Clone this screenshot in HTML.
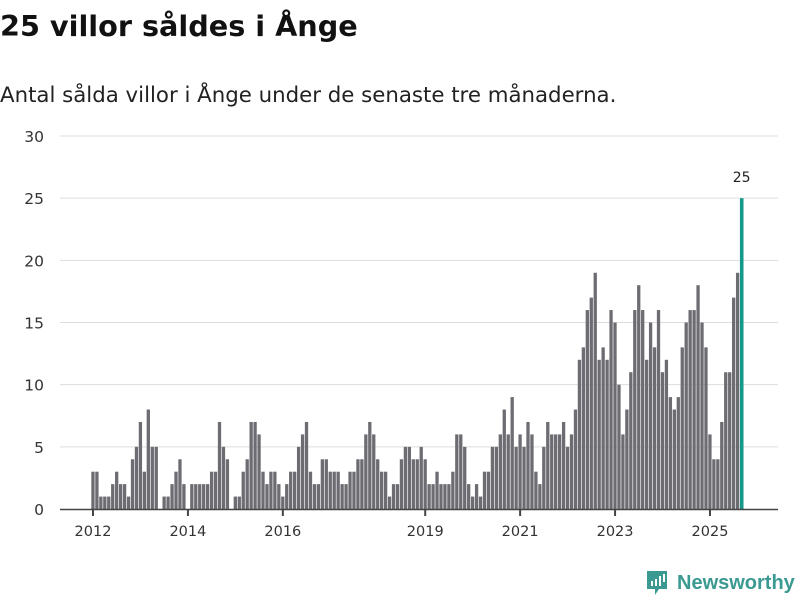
<!DOCTYPE html>
<html><head><meta charset="utf-8"><style>
body{margin:0;width:800px;height:600px;background:#fff;font-family:"DejaVu Sans",sans-serif;overflow:hidden;position:relative}
#title{position:absolute;left:0;top:9px;font-size:28.7px;font-weight:bold;color:#111;margin:0;white-space:nowrap}
#sub{position:absolute;left:0;top:83px;font-size:21.3px;color:#222;white-space:nowrap}
svg{position:absolute;left:0;top:0}
#logo{position:absolute;left:645px;top:569px;display:flex;align-items:center;color:#3a9a92;font-size:20px;font-family:"Liberation Sans",sans-serif;font-weight:bold}
</style></head><body>
<h1 id="title">25 villor såldes i Ånge</h1>
<div id="sub">Antal sålda villor i Ånge under de senaste tre månaderna.</div>
<svg id="chart" width="800" height="600"></svg>
<div id="logo"><svg width="24" height="28" style="position:static;margin-right:8px"><path d="M2 2h20v18h-8l-4 6v-6H2z" fill="#3a9a92"/><rect x="6" y="12" width="2" height="5" fill="#fff"/><rect x="10" y="10" width="2" height="7" fill="#fff"/><rect x="14" y="7" width="2" height="10" fill="#fff"/><rect x="18" y="5" width="2" height="8" fill="#fff"/></svg><span>Newsworthy</span></div>
<script>
const values=[3,3,1,1,1,2,3,2,2,1,4,5,7,3,8,5,5,
0,1,1,2,3,4,2,0,
2,2,2,2,2,3,3,7,5,4,0,1,1,3,4,7,
7,6,3,2,3,3,2,1,2,3,3,5,6,7,3,2,2,4,4,3,3,3,2,2,3,3,4,4,6,7,6,4,3,3,1,2,2,4,5,5,4,4,
5,4,2,2,3,2,2,2,3,6,6,5,2,1,2,1,3,3,5,5,6,8,6,9,5,6,5,7,6,3,2,5,7,6,6,6,7,5,6,8,
12,13,16,17,19,12,13,12,16,15,10,6,8,11,16,18,16,12,15,13,16,11,12,9,8,9,13,15,16,16,18,15,13,6,4,4,7,11,11,17,19,25];
const yTicks=[0,5,10,15,20,25,30];
const xTickLabels=["2012","2014","2016","2019","2021","2023","2025"];
const xTickIndex=[0,24,48,84,108,132,156];
const svg=document.getElementById('chart');const NS='http://www.w3.org/2000/svg';
const y=v=>509-v*(373/30);
const x=i=>93+i*3.955;
function mk(t,a){const e=document.createElementNS(NS,t);for(const k in a)e.setAttribute(k,a[k]);svg.appendChild(e);return e;}
yTicks.forEach(t=>{
 if(t>0){const g=mk('line',{x1:60,x2:778,y1:y(t),y2:y(t),stroke:'#ddd','stroke-width':1});
 
 }
 const l=mk('text',{x:44,y:y(t)+6,'text-anchor':'end','font-size':15.5,fill:'#333'});l.textContent=t;
 
 
});
values.forEach((v,i)=>{
 if(v<=0)return;
 const last=i===values.length-1;
 const r=mk('rect',{x:x(i)-1.7,y:y(v),width:last?3.6:3.3,height:y(0)-y(v),fill:last?'#17988c':'#6d6c72'});
 
 
 if(last){const t=mk('text',{x:x(i),y:y(v)-16,'text-anchor':'middle','font-size':14,fill:'#222'});t.textContent=v;
 
 }
});
const ax=mk('line',{x1:60,x2:778,y1:509.5,y2:509.5,stroke:'#444','stroke-width':1.5});


xTickIndex.forEach((ti,k)=>{
 const tk=mk('line',{x1:x(ti),x2:x(ti),y1:509,y2:516,stroke:'#444','stroke-width':2});
 
 
 const l=mk('text',{x:x(ti),y:536,'text-anchor':'middle','font-size':14.5,fill:'#333'});l.textContent=xTickLabels[k];
 
 
});
</script>
</body></html>
